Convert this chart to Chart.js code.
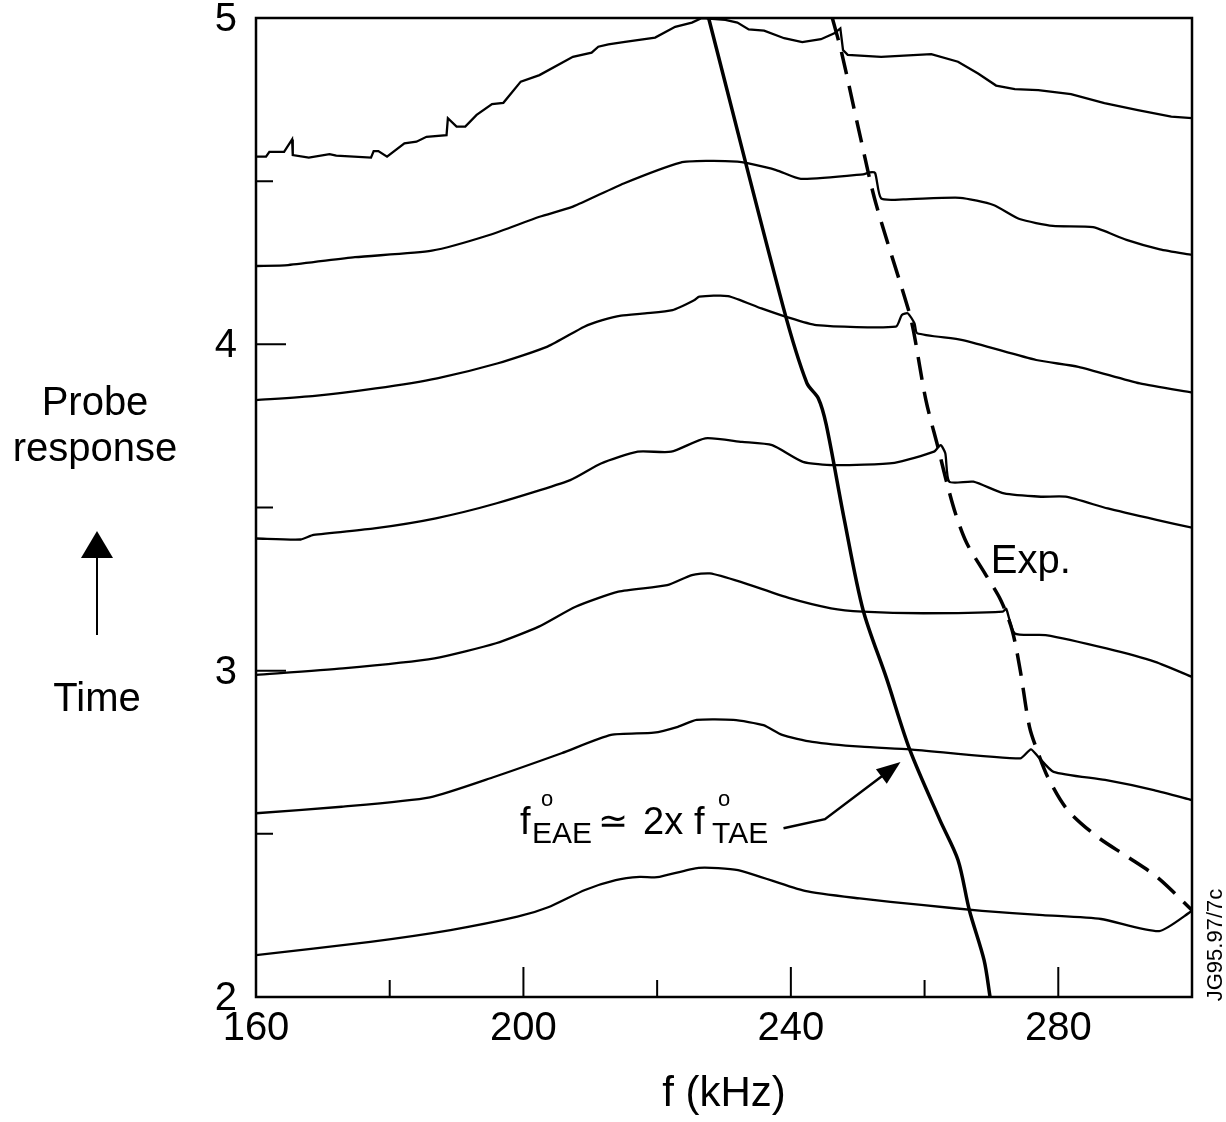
<!DOCTYPE html>
<html>
<head>
<meta charset="utf-8">
<title>Probe response vs frequency</title>
<script src="https://cdn.jsdelivr.net/npm/chart.js@4.4.1/dist/chart.umd.min.js"></script>
<style>
  body { margin: 0; background: #fff; }
  #wrap { width: 1226px; height: 1122px; }
</style>
</head>
<body>
<div id="wrap"><canvas id="chart" width="1226" height="1122"></canvas></div>
<script>
// Probe response spectra, one per time slice: [frequency kHz, offset response]
var trace1 = [[160, 4.575], [161.5, 4.575], [162.0, 4.59], [164.2, 4.59], [165.4, 4.628], [165.5, 4.58], [167.9, 4.572],
    [171.0, 4.583], [172.0, 4.578], [177.2, 4.572], [177.6, 4.592], [178.3, 4.592], [179.6, 4.575], [182.2, 4.616],
    [184.0, 4.621], [185.5, 4.636], [188.5, 4.641], [188.7, 4.693], [190.0, 4.667], [191.3, 4.667], [193.0, 4.703],
    [195.3, 4.736], [197.0, 4.740], [199.6, 4.805], [202.4, 4.825], [207.4, 4.881], [210.2, 4.894], [211.2, 4.912],
    [212.7, 4.919], [215.2, 4.927], [219.7, 4.94], [222.7, 4.973], [225.2, 4.986], [226.7, 5.0], [230.2, 4.994],
    [232.0, 4.986], [233.7, 4.965], [236.0, 4.961], [239.0, 4.938], [241.7, 4.926], [244.5, 4.935], [246.5, 4.953],
    [247.4, 4.968], [247.8, 4.902], [248.5, 4.887], [253.5, 4.881], [261.0, 4.889], [265.0, 4.866], [268.0, 4.83],
    [270.7, 4.793], [273.5, 4.782], [277.0, 4.779], [281.9, 4.767], [286.9, 4.739], [291.9, 4.718], [296.9, 4.698],
    [300, 4.693]];
var trace2 = [[160, 4.240], [164.8, 4.243], [174.8, 4.267], [186.3, 4.287], [194.9, 4.335], [202.4, 4.391],
    [207.4, 4.422], [215.0, 4.493], [223.5, 4.557], [227.5, 4.562], [232.0, 4.560], [233.5, 4.555], [237.8, 4.534],
    [241.5, 4.507], [250.8, 4.521], [251.8, 4.527], [252.6, 4.525], [253.5, 4.447], [256.8, 4.444], [265.3, 4.449],
    [270.3, 4.427], [274.2, 4.384], [279.2, 4.363], [285.2, 4.359], [290.2, 4.320], [295.2, 4.291], [300, 4.274]];
var trace3 = [[160, 3.829], [168.8, 3.842], [177.9, 3.865], [187.1, 3.896], [196.2, 3.942], [203.6, 3.993],
    [209.1, 4.054], [211.8, 4.074], [214.6, 4.088], [218.2, 4.095], [222.3, 4.105], [225.6, 4.136], [226.3, 4.146],
    [230.6, 4.148], [235.6, 4.110], [239.2, 4.085], [243.8, 4.059], [255.7, 4.054], [256.6, 4.090], [257.5, 4.095],
    [258.5, 4.064], [258.9, 4.034], [265.7, 4.013], [276.7, 3.952], [283.0, 3.931], [292.2, 3.880], [300, 3.852]];
var trace4 = [[160, 3.405], [166.7, 3.402], [168.6, 3.416], [177.7, 3.436], [186.9, 3.467], [196.0, 3.513],
    [207.0, 3.584], [211.6, 3.635], [217.1, 3.671], [222.1, 3.671], [227.2, 3.712], [232.7, 3.701], [237.2, 3.691],
    [241.8, 3.640], [246.4, 3.630], [255.5, 3.637], [261.4, 3.671], [262.4, 3.691], [263.1, 3.666], [263.7, 3.579],
    [267.3, 3.579], [271.9, 3.543], [277.4, 3.533], [281.1, 3.533], [287.4, 3.497], [294.7, 3.462], [300, 3.438]];
var trace5 = [[160, 2.987], [173.0, 3.007], [186.7, 3.038], [195.9, 3.084], [202.3, 3.135], [207.8, 3.196],
    [214.2, 3.242], [221.5, 3.262], [225.2, 3.293], [227.9, 3.298], [232.5, 3.272], [239.8, 3.222], [246.0, 3.191],
    [250.7, 3.181], [259.8, 3.176], [271.7, 3.181], [272.2, 3.19], [273.5, 3.114], [278.1, 3.109], [287.2, 3.068],
    [294.5, 3.027], [300, 2.981]];
var trace6 = [[160, 2.563], [172.8, 2.583], [186.0, 2.612], [195.7, 2.675], [205.7, 2.747], [213.1, 2.803],
    [219.5, 2.810], [223.1, 2.828], [225.9, 2.849], [231.4, 2.849], [235.9, 2.833], [238.7, 2.803], [243.2, 2.782],
    [250.5, 2.767], [257.8, 2.759], [274.3, 2.731], [275.9, 2.759], [277.0, 2.736], [279.3, 2.690], [287.0, 2.665],
    [294.3, 2.634], [300, 2.603]];
var trace7 = [[160, 2.128], [177.1, 2.169], [189.1, 2.205], [199.1, 2.246], [203.7, 2.275], [209.2, 2.328],
    [213.8, 2.358], [217.4, 2.368], [220.0, 2.367], [226.2, 2.396], [232.1, 2.389], [242.1, 2.325], [250.3, 2.302],
    [259.5, 2.282], [268.6, 2.264], [277.7, 2.251], [286.4, 2.239], [295.1, 2.202], [300, 2.264]];

// f_EAE = 2 x f_TAE (theory, solid) and measured peak (Exp., dashed)
var theoryLine = [[227.7, 5.0], [238.9, 4.111], [242.4, 3.881], [244.1, 3.835], [245.3, 3.753], [248.0, 3.462],
    [250.8, 3.186], [254.3, 2.977], [257.8, 2.757], [262.3, 2.542], [265.0, 2.420], [266.7, 2.266], [268.9, 2.113],
    [269.8, 2.0]];
var expLine = [[246.2, 5.0], [247.6, 4.893], [250.4, 4.635], [252.7, 4.433], [257.6, 4.105], [258.4, 4.035],
    [260.2, 3.829], [262.0, 3.685], [263.3, 3.578], [264.6, 3.483], [266.3, 3.391], [269.0, 3.299], [271.4, 3.216],
    [273.1, 3.124], [274.3, 3.002], [275.7, 2.827], [277.0, 2.747], [278.5, 2.671], [281.4, 2.573], [285.9, 2.490],
    [290.4, 2.429], [294.8, 2.367], [300, 2.266]];

// Axis ticks (drawn inside the frame)
var xMajorTicks = [200, 240, 280];
var xMinorTicks = [180, 220, 260];
var xLabelTicks = [160, 200, 240, 280];
var yMajorTicks = [3, 4];
var yMinorTicks = [2.5, 3.5, 4.5];
var yLabelTicks = [2, 3, 4, 5];

var FONT = "'Liberation Sans', Arial, Helvetica, sans-serif";

function toPoints(pairs) {
    var points = [];
    for (var i = 0; i < pairs.length; ++i) {
        points.push({ x: pairs[i][0], y: pairs[i][1] });
    }
    return points;
}

function traceDataset(pairs, tension) {
    return {
        data: toPoints(pairs),
        borderColor: '#000',
        borderWidth: 2.3,
        pointRadius: 0,
        tension: tension,
        fill: false
    };
}

// Frame, inside ticks and the free text around the plot.
var decorations = {
    id: 'decorations',
    afterDraw: function (chart) {
        var ctx = chart.ctx;
        var area = chart.chartArea;
        var xs = chart.scales.x;
        var ys = chart.scales.y;
        var i, p;

        ctx.save();
        ctx.strokeStyle = '#000';
        ctx.fillStyle = '#000';

        ctx.lineWidth = 2.5;
        ctx.strokeRect(area.left, area.top, area.right - area.left, area.bottom - area.top);

        ctx.lineWidth = 2;
        ctx.beginPath();
        for (i = 0; i < xMajorTicks.length; ++i) {
            p = xs.getPixelForValue(xMajorTicks[i]);
            ctx.moveTo(p, area.bottom);
            ctx.lineTo(p, area.bottom - 30);
        }
        for (i = 0; i < xMinorTicks.length; ++i) {
            p = xs.getPixelForValue(xMinorTicks[i]);
            ctx.moveTo(p, area.bottom);
            ctx.lineTo(p, area.bottom - 17);
        }
        for (i = 0; i < yMajorTicks.length; ++i) {
            p = ys.getPixelForValue(yMajorTicks[i]);
            ctx.moveTo(area.left, p);
            ctx.lineTo(area.left + 30, p);
        }
        for (i = 0; i < yMinorTicks.length; ++i) {
            p = ys.getPixelForValue(yMinorTicks[i]);
            ctx.moveTo(area.left, p);
            ctx.lineTo(area.left + 17, p);
        }
        ctx.stroke();

        // Left side caption with the time arrow
        ctx.textAlign = 'center';
        ctx.textBaseline = 'alphabetic';
        ctx.font = '40px ' + FONT;
        ctx.fillText('Probe', 95, 415);
        ctx.fillText('response', 95, 461);
        ctx.fillText('Time', 97, 711);
        ctx.beginPath();
        ctx.moveTo(97, 635);
        ctx.lineTo(97, 552);
        ctx.stroke();
        ctx.beginPath();
        ctx.moveTo(97, 531);
        ctx.lineTo(113, 558);
        ctx.lineTo(81, 558);
        ctx.closePath();
        ctx.fill();

        // "Exp." next to the dashed line
        ctx.textAlign = 'left';
        ctx.font = '40px ' + FONT;
        ctx.fillText('Exp.', xs.getPixelForValue(269.9), ys.getPixelForValue(3.30));

        // f°EAE ≃ 2x f°TAE with arrow to the solid line
        var ax = xs.getPixelForValue(199.5);
        var ay = ys.getPixelForValue(2.5);
        ctx.font = '38px ' + FONT;
        ctx.fillText('f', ax, ay);
        ctx.font = '22px ' + FONT;
        ctx.fillText('o', ax + 21, ay - 28);
        ctx.font = '30px ' + FONT;
        ctx.fillText('EAE', ax + 12, ay + 9);
        ctx.font = '36px ' + FONT;
        ctx.fillText('\u2243', ax + 78, ay - 1);
        ctx.font = '38px ' + FONT;
        ctx.fillText('2x', ax + 123, ay);
        ctx.fillText('f', ax + 174, ay);
        ctx.font = '22px ' + FONT;
        ctx.fillText('o', ax + 198, ay - 28);
        ctx.font = '30px ' + FONT;
        ctx.fillText('TAE', ax + 192, ay + 9);

        var p1x = xs.getPixelForValue(238.9), p1y = ys.getPixelForValue(2.517);
        var p2x = xs.getPixelForValue(245.1), p2y = ys.getPixelForValue(2.545);
        var tx = xs.getPixelForValue(256.4), ty = ys.getPixelForValue(2.72);
        var ang = Math.atan2(ty - p2y, tx - p2x);
        ctx.lineWidth = 2.5;
        ctx.beginPath();
        ctx.moveTo(p1x, p1y);
        ctx.lineTo(p2x, p2y);
        ctx.lineTo(tx - 18 * Math.cos(ang), ty - 18 * Math.sin(ang));
        ctx.stroke();
        ctx.beginPath();
        ctx.moveTo(tx, ty);
        ctx.lineTo(tx - 24 * Math.cos(ang) + 9 * Math.sin(ang), ty - 24 * Math.sin(ang) - 9 * Math.cos(ang));
        ctx.lineTo(tx - 24 * Math.cos(ang) - 9 * Math.sin(ang), ty - 24 * Math.sin(ang) + 9 * Math.cos(ang));
        ctx.closePath();
        ctx.fill();

        // figure reference code on the right edge
        ctx.translate(1222, 945);
        ctx.rotate(-Math.PI / 2);
        ctx.textAlign = 'center';
        ctx.font = '22px ' + FONT;
        ctx.fillText('JG95.97/7c', 0, 0);
        ctx.restore();
    }
};

function drawChart() {
    var canvas = document.getElementById('chart');
    var datasets = [
        traceDataset(trace1, 0),
        traceDataset(trace2, 0.2),
        traceDataset(trace3, 0.2),
        traceDataset(trace4, 0.2),
        traceDataset(trace5, 0.2),
        traceDataset(trace6, 0.2),
        traceDataset(trace7, 0.2),
        {
            data: toPoints(theoryLine),
            borderColor: '#000',
            borderWidth: 3.5,
            pointRadius: 0,
            tension: 0.3,
            fill: false
        },
        {
            data: toPoints(expLine),
            borderColor: '#000',
            borderWidth: 3.5,
            borderDash: [23, 12],
            pointRadius: 0,
            tension: 0.3,
            fill: false
        }
    ];

    new Chart(canvas, {
        type: 'line',
        data: { datasets: datasets },
        options: {
            responsive: false,
            animation: false,
            devicePixelRatio: 1,
            layout: { padding: { left: 0, right: 34, top: 18, bottom: 0 } },
            plugins: {
                legend: { display: false },
                tooltip: { enabled: false }
            },
            scales: {
                x: {
                    type: 'linear',
                    min: 160,
                    max: 300,
                    grid: { display: false, drawTicks: false },
                    border: { display: false },
                    ticks: {
                        stepSize: 20,
                        autoSkip: false,
                        maxRotation: 0,
                        padding: 8,
                        color: '#000',
                        font: { family: FONT, size: 40 },
                        callback: function (value) {
                            return xLabelTicks.indexOf(value) >= 0 ? String(value) : '';
                        }
                    },
                    title: {
                        display: true,
                        text: 'f (kHz)',
                        color: '#000',
                        font: { family: FONT, size: 42 },
                        padding: { top: 0, bottom: 2 }
                    },
                    afterFit: function (scale) {
                        scale.height = 125;
                        scale.paddingLeft = 0;
                        scale.paddingRight = 0;
                    }
                },
                y: {
                    type: 'linear',
                    min: 2,
                    max: 5,
                    grid: { display: false, drawTicks: false },
                    border: { display: false },
                    ticks: {
                        stepSize: 0.5,
                        autoSkip: false,
                        padding: 19,
                        labelOffset: 2,
                        color: '#000',
                        font: { family: FONT, size: 40 },
                        callback: function (value) {
                            return yLabelTicks.indexOf(value) >= 0 ? String(value) : '';
                        }
                    },
                    afterFit: function (scale) {
                        scale.width = 256;
                        scale.paddingTop = 0;
                        scale.paddingBottom = 0;
                    }
                }
            }
        },
        plugins: [decorations]
    });
}

drawChart();
</script>
</body>
</html>
